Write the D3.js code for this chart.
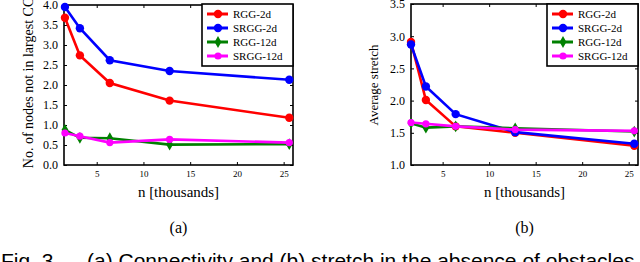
<!DOCTYPE html>
<meta charset="utf-8">
<style>
body { margin: 0; background: #fff; }
svg { display: block; }
text { font-family: "Liberation Serif", "DejaVu Serif", serif; fill: #000; }
.caption { font-family: "Liberation Sans", Arial, sans-serif; }
</style>
<body>
<svg id="chart" width="640" height="262"></svg>
<script src="https://cdnjs.cloudflare.com/ajax/libs/d3/7.8.5/d3.min.js"></script>
<script>

// n in thousands
var nValues = [1.6, 3.2, 6.4, 12.8, 25.6];
var seriesNames = ["RGG-2d", "SRGG-2d", "RGG-12d", "SRGG-12d"];
var seriesColors = ["#ff0000", "#0000ff", "#008000", "#ff00ff"];

// (a) nodes not in largest CC
var connRGG2d   = [3.68, 2.74, 2.05, 1.61, 1.18];
var connSRGG2d  = [3.95, 3.42, 2.62, 2.35, 2.13];
var connRGG12d  = [0.88, 0.68, 0.67, 0.51, 0.52];
var connSRGG12d = [0.80, 0.72, 0.56, 0.64, 0.56];

// (b) average stretch
var strRGG2d   = [2.91, 2.01, 1.60, 1.50, 1.30];
var strSRGG2d  = [2.87, 2.22, 1.79, 1.51, 1.33];
var strRGG12d  = [1.65, 1.58, 1.60, 1.57, 1.52];
var strSRGG12d = [1.66, 1.64, 1.60, 1.55, 1.53];

var xTicks = [5, 10, 15, 20, 25];

var svg = d3.select("#chart");

function panel(opts) {
  var x = d3.scaleLinear().domain(opts.xDomain).range([opts.left, opts.right]);
  var y = d3.scaleLinear().domain(opts.yDomain).range([opts.bottom, opts.top]);
  var g = svg.append("g");

  // x axis (ticks pointing into the plot)
  var xa = g.append("g")
      .attr("transform", "translate(0," + opts.bottom + ")")
      .call(d3.axisBottom(x).tickValues(xTicks).tickSizeInner(-3).tickSizeOuter(0).tickPadding(6));
  xa.selectAll("text").style("font-size", "9px").style("font-family", "Liberation Serif");
  g.append("g")
      .attr("transform", "translate(0," + opts.top + ")")
      .call(d3.axisTop(x).tickValues(xTicks).tickSizeInner(-3).tickSizeOuter(0).tickFormat(""));

  var ya = g.append("g")
      .attr("transform", "translate(" + opts.left + ",0)")
      .call(d3.axisLeft(y).tickValues(opts.yTicks).tickSizeInner(-3).tickSizeOuter(0)
        .tickPadding(6).tickFormat(d3.format(".1f")));
  ya.selectAll("text").style("font-size", "12px").style("font-family", "Liberation Serif");
  g.append("g")
      .attr("transform", "translate(" + opts.right + ",0)")
      .call(d3.axisRight(y).tickValues(opts.yTicks).tickSizeInner(-3).tickSizeOuter(0).tickFormat(""));

  g.selectAll(".domain").remove();
  g.selectAll(".tick line").attr("stroke", "#000");

  // frame
  g.append("rect")
      .attr("x", opts.left).attr("y", opts.top)
      .attr("width", opts.right - opts.left).attr("height", opts.bottom - opts.top)
      .attr("fill", "none").attr("stroke", "#000").attr("stroke-width", 1.6);

  var line = d3.line().x(function(d, i) { return x(nValues[i]); }).y(function(d) { return y(d); });

  opts.series.forEach(function(vals, k) {
    var color = seriesColors[k];
    g.append("path")
        .attr("d", line(vals))
        .attr("fill", "none")
        .attr("stroke", color)
        .attr("stroke-width", 2.6);
    vals.forEach(function(v, i) {
      drawMarker(g, k, x(nValues[i]), y(v));
    });
  });

  // axis titles
  g.append("text")
      .attr("x", (opts.left + opts.right) / 2)
      .attr("y", 197)
      .attr("text-anchor", "middle")
      .style("font-size", "15px")
      .text("n [thousands]");
  g.append("text")
      .attr("transform", "translate(" + opts.yLabelX + "," + opts.yLabelY + ") rotate(-90)")
      .attr("text-anchor", "middle")
      .style("font-size", opts.yLabelSize)
      .text(opts.yLabel);

  // legend
  var lx = opts.right - 91, ly = 4;
  g.append("rect")
      .attr("x", lx).attr("y", ly).attr("width", 91).attr("height", 62)
      .attr("fill", "#fff").attr("stroke", "#000").attr("stroke-width", 1.6);
  seriesNames.forEach(function(name, k) {
    var yy = ly + 10 + k * 14;
    g.append("line")
        .attr("x1", lx + 5).attr("x2", lx + 26)
        .attr("y1", yy).attr("y2", yy)
        .attr("stroke", seriesColors[k]).attr("stroke-width", 3);
    drawMarker(g, k, lx + 16, yy);
    g.append("text")
        .attr("x", lx + 31).attr("y", yy + 4)
        .style("font-size", "11px")
        .text(name);
  });

  // sub caption
  g.append("text")
      .attr("x", (opts.left + opts.right) / 2)
      .attr("y", 233)
      .attr("text-anchor", "middle")
      .style("font-size", "16px")
      .text(opts.tag);
}

function drawMarker(g, k, cx, cy) {
  if (k === 2) {
    g.append("path")
        .attr("d", d3.symbol(d3.symbolDiamond, 40)())
        .attr("transform", "translate(" + cx + "," + cy + ")")
        .attr("fill", seriesColors[k]);
  } else {
    g.append("circle")
        .attr("cx", cx).attr("cy", cy)
        .attr("r", k === 3 ? 3.6 : 4.2)
        .attr("fill", seriesColors[k]);
  }
}

panel({
  left: 64, right: 293, top: 5, bottom: 165,
  xDomain: [1.5, 26], yDomain: [0, 4],
  yTicks: [0, 0.5, 1, 1.5, 2, 2.5, 3, 3.5, 4],
  series: [connRGG2d, connSRGG2d, connRGG12d, connSRGG12d],
  yLabel: "No. of nodes not in largest CC", yLabelX: 33, yLabelY: 83, yLabelSize: "14px",
  tag: "(a)"
});

panel({
  left: 411, right: 638, top: 4, bottom: 165,
  xDomain: [1.6, 26], yDomain: [1, 3.5],
  yTicks: [1, 1.5, 2, 2.5, 3, 3.5],
  series: [strRGG2d, strSRGG2d, strRGG12d, strSRGG12d],
  yLabel: "Average stretch", yLabelX: 378, yLabelY: 85, yLabelSize: "13px",
  tag: "(b)"
});

svg.append("text").attr("class", "caption")
    .attr("x", 1).attr("y", 268)
    .style("font-size", "21px")
    .text("Fig. 3.");
svg.append("text").attr("class", "caption")
    .attr("x", 87).attr("y", 268)
    .style("font-size", "21px")
    .text("(a) Connectivity and (b) stretch in the absence of obstacles");

</script>
